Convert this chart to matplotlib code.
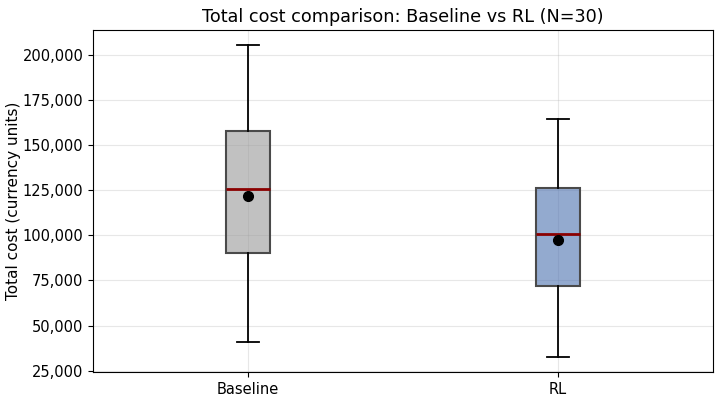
import matplotlib
matplotlib.use("Agg")
import matplotlib.pyplot as plt
from matplotlib.colors import to_rgba
from matplotlib.ticker import FuncFormatter

labels = ["Baseline", "RL"]
whislo = [41000, 32500]
q1 = [90000, 72000]
med = [125500, 100500]
q3 = [157800, 126000]
whishi = [205500, 164500]
means = [121500, 97500]
colors = ["#999999", "#4C72B0"]

stats = []
for i in range(len(labels)):
    stats.append({
        "label": labels[i], "whislo": whislo[i], "q1": q1[i], "med": med[i],
        "q3": q3[i], "whishi": whishi[i], "mean": means[i], "fliers": [],
    })

fig, ax = plt.subplots(figsize=(7.23, 4.03), dpi=100)
bp = ax.bxp(stats, positions=[1, 2], widths=0.14, patch_artist=True, showmeans=True,
            boxprops=dict(edgecolor="#4a4a4a", linewidth=1.5),
            medianprops=dict(color="darkred", linewidth=2),
            whiskerprops=dict(color="black", linewidth=1.3),
            capprops=dict(color="black", linewidth=1.3),
            meanprops=dict(marker="o", markerfacecolor="black", markeredgecolor="black", markersize=7))
for patch, c in zip(bp["boxes"], colors):
    patch.set_facecolor(to_rgba(c, 0.6))

ax.set_xlim(0.5, 2.5)
ax.set_ylim(24300, 213500)
ax.grid(True, alpha=0.3)
ax.yaxis.set_major_formatter(FuncFormatter(lambda v, p: f"{int(v):,}"))
ax.tick_params(labelsize=10.5)
ax.set_ylabel("Total cost (currency units)", fontsize=11)
ax.yaxis.set_label_coords(-0.116, 0.5)
ax.set_title("Total cost comparison: Baseline vs RL (N=30)", fontsize=12.7)

fig.subplots_adjust(left=0.129, right=0.986, top=0.925, bottom=0.077)
fig.savefig("out.png", dpi=100)
